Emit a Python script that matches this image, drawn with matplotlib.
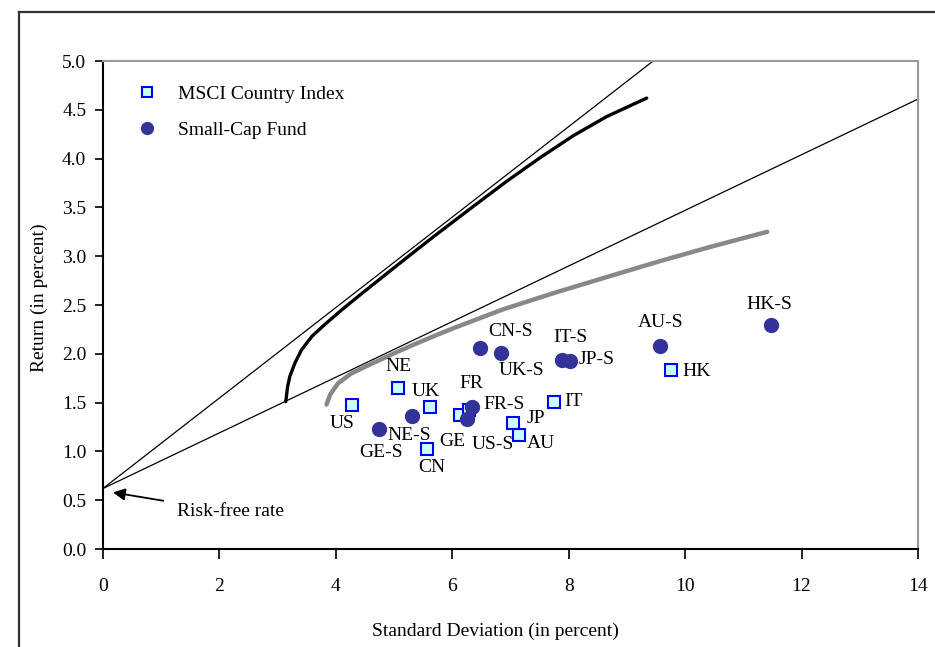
import numpy as np
import matplotlib
matplotlib.use('Agg')
import matplotlib.pyplot as plt
from matplotlib.lines import Line2D

plt.rcParams['font.family'] = ['Liberation Serif', 'DejaVu Serif']
plt.rcParams['font.size'] = 14

# MSCI country index (std dev, return)
msci_names = ['US', 'NE', 'UK', 'GE', 'CN', 'FR', 'JP', 'AU', 'IT', 'HK']
msci_sd = [4.27, 5.07, 5.62, 6.13, 5.57, 6.28, 7.05, 7.14, 7.74, 9.75]
msci_ret = [1.48, 1.65, 1.46, 1.37, 1.02, 1.42, 1.29, 1.17, 1.51, 1.83]

# small-cap funds
sc_names = ['GE-S', 'NE-S', 'US-S', 'FR-S', 'CN-S', 'UK-S', 'IT-S', 'JP-S', 'AU-S', 'HK-S']
sc_sd = [4.74, 5.30, 6.25, 6.34, 6.48, 6.83, 7.88, 8.02, 9.56, 11.47]
sc_ret = [1.23, 1.36, 1.33, 1.45, 2.06, 2.01, 1.94, 1.93, 2.08, 2.30]

# frontier with small caps (black) and without (grey)
front_sc_sd = [3.14, 3.17, 3.21, 3.30, 3.41, 3.59, 3.81, 4.10, 4.45, 4.85, 5.25, 5.70,
               6.36, 6.94, 7.51, 8.08, 8.65, 9.34]
front_sc_ret = [1.51, 1.66, 1.77, 1.91, 2.04, 2.18, 2.30, 2.45, 2.62, 2.81, 3.00, 3.21,
                3.51, 3.77, 4.01, 4.235, 4.43, 4.62]
front_msci_sd = [3.84, 3.90, 4.04, 4.27, 4.62, 5.02, 5.36, 5.70, 6.01, 6.87, 7.73, 8.59,
                 9.57, 10.43, 11.41]
front_msci_ret = [1.48, 1.58, 1.70, 1.80, 1.90, 2.01, 2.10, 2.185, 2.26, 2.455, 2.62, 2.775,
                  2.95, 3.095, 3.25]

# capital market lines from the risk-free rate
rf = 0.62
cml_steep_sd = [0.0, 9.45]
cml_steep_ret = [rf, 5.0]
cml_flat_sd = [0.0, 14.0]
cml_flat_ret = [rf, 4.61]

# label offsets in pixels (dx right, dy up)
msci_off = [(-9, -19), (0, 21), (-4, 15), (-8, -26), (5, -18), (3, 27), (22, 5), (22, -9), (20, 0), (26, -1)]
sc_off = [(2, -24), (-2, -19), (26, -25), (32, 3), (30, 16), (21, -18), (9, 22), (27, 1), (1, 23), (-1, 20)]

fig = plt.figure(figsize=(9.35, 6.47), dpi=100)
ax = fig.add_axes([103 / 935, 1 - 549 / 647, 815 / 935, 488 / 647])

# outer frame (only left and top edges are visible)
fig.add_artist(Line2D([19 / 935, 19 / 935], [0, 1 - 12 / 647], transform=fig.transFigure, color='#333333', lw=1.6))
fig.add_artist(Line2D([19 / 935, 1], [1 - 12 / 647, 1 - 12 / 647], transform=fig.transFigure, color='#333333', lw=1.6))

ax.plot(cml_steep_sd, cml_steep_ret, color='black', lw=0.9, zorder=2)
ax.plot(cml_flat_sd, cml_flat_ret, color='black', lw=0.9, zorder=2)
ax.plot(front_sc_sd, front_sc_ret, color='black', lw=2.4, solid_capstyle='round',
        solid_joinstyle='round', zorder=3)
ax.plot(front_msci_sd, front_msci_ret, color='#888888', lw=3.2, solid_capstyle='round',
        solid_joinstyle='round', zorder=3)

ax.plot(msci_sd, msci_ret, ls='none', marker='s', ms=9, mfc='#ccffff', mec='#0000ff', mew=1.5,
        label='MSCI Country Index', zorder=4)
ax.plot(sc_sd, sc_ret, ls='none', marker='o', ms=10, mfc='#333399', mec='#333399',
        label='Small-Cap Fund', zorder=5)

for name, x, y, (dx, dy) in zip(msci_names, msci_sd, msci_ret, msci_off):
    ax.annotate(name, (x, y), xytext=(dx * 0.72, dy * 0.72), textcoords='offset points',
                ha='center', va='center', fontsize=14)
for name, x, y, (dx, dy) in zip(sc_names, sc_sd, sc_ret, sc_off):
    ax.annotate(name, (x, y), xytext=(dx * 0.72, dy * 0.72), textcoords='offset points',
                ha='center', va='center', fontsize=14)

ax.annotate('Risk-free rate', xy=(0.17, 0.58), xytext=(1.27, 0.38), ha='left', va='center', fontsize=14,
            arrowprops=dict(arrowstyle='-|>', color='black', lw=1.3, mutation_scale=18, shrinkA=8, shrinkB=0))

ax.set_xlim(0, 14)
ax.set_ylim(0, 5)
ax.set_xticks(np.arange(0, 15, 2))
ax.set_yticks(np.arange(0, 5.01, 0.5))
ax.set_yticklabels([f'{v:.1f}' for v in np.arange(0, 5.01, 0.5)])
ax.tick_params(axis='x', direction='out', length=7, width=1.2, pad=14, labelsize=14)
ax.tick_params(axis='y', direction='out', length=6, width=1.2, pad=6, labelsize=14)
for s in ['left', 'bottom']:
    ax.spines[s].set_linewidth(1.5)
for s in ['top', 'right']:
    ax.spines[s].set_color('#999999')
    ax.spines[s].set_linewidth(1.5)

ax.set_xlabel('Standard Deviation (in percent)', fontsize=14)
ax.xaxis.set_label_coords(0.481, -0.150)
ax.set_ylabel('Return (in percent)', fontsize=14)
ax.yaxis.set_label_coords(-0.068, 0.516)

ax.legend(loc='upper left', bbox_to_anchor=(0.042, 0.950), frameon=False, handlelength=1,
          handletextpad=1.1, borderpad=0, borderaxespad=0, labelspacing=0.95, fontsize=14,
          numpoints=1, markerscale=0.85)

fig.savefig('out.png', dpi=100)
